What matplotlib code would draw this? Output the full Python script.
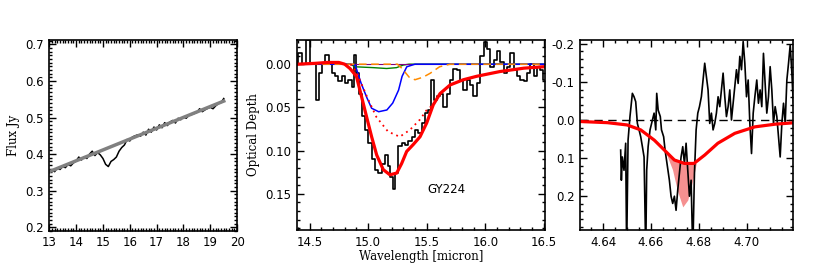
import matplotlib
matplotlib.use("Agg")
import matplotlib.pyplot as plt
from matplotlib.ticker import MultipleLocator, FormatStrFormatter

# ---- left panel: flux spectrum and continuum ----
flux_wave = [13.0, 13.1, 13.2, 13.3, 13.4, 13.5, 13.6, 13.7, 13.8, 13.9,
             14.0, 14.1, 14.2, 14.3, 14.4, 14.5, 14.6, 14.7, 14.8, 14.9,
             15.0, 15.1, 15.2, 15.3, 15.4, 15.5, 15.6, 15.7, 15.8, 15.9,
             16.0, 16.1, 16.2, 16.3, 16.4, 16.5, 16.6, 16.7, 16.8, 16.9,
             17.0, 17.1, 17.2, 17.3, 17.4, 17.5, 17.6, 17.7, 17.8, 17.9,
             18.0, 18.1, 18.2, 18.3, 18.4, 18.5, 18.6, 18.7, 18.8, 18.9,
             19.0, 19.1, 19.2, 19.3, 19.4, 19.5]
flux = [0.350, 0.356, 0.352, 0.362, 0.358, 0.366, 0.363, 0.372, 0.368, 0.376,
        0.381, 0.392, 0.384, 0.393, 0.388, 0.400, 0.408, 0.396, 0.404, 0.398,
        0.388, 0.372, 0.366, 0.380, 0.385, 0.392, 0.408, 0.418, 0.425, 0.440,
        0.436, 0.447, 0.450, 0.453, 0.449, 0.460, 0.452, 0.468, 0.460, 0.474,
        0.466, 0.480, 0.472, 0.486, 0.478, 0.488, 0.492, 0.485, 0.498, 0.494,
        0.502, 0.498, 0.506, 0.508, 0.511, 0.514, 0.524, 0.516, 0.521, 0.525,
        0.528, 0.524, 0.532, 0.538, 0.541, 0.552]
cont_wave = [13.0, 19.5]
cont_flux = [0.352, 0.545]

# ---- middle panel: optical depth ----
tau_wave = [14.389, 14.417, 14.460, 14.488, 14.517, 14.545, 14.565, 14.588, 14.617, 14.651,
            14.674, 14.702, 14.731, 14.759, 14.788, 14.816, 14.845, 14.873, 14.887, 14.907,
            14.930, 14.959, 14.987, 15.016, 15.044, 15.073, 15.101, 15.130, 15.158, 15.181,
            15.201, 15.221, 15.243, 15.272, 15.300, 15.329, 15.357, 15.386, 15.414, 15.443,
            15.472, 15.500, 15.529, 15.551, 15.571, 15.600, 15.628, 15.657, 15.685, 15.714,
            15.743, 15.771, 15.800, 15.828, 15.857, 15.885, 15.914, 15.942, 15.971, 16.000,
            16.028, 16.057, 16.085, 16.114, 16.142, 16.171, 16.199, 16.228, 16.256, 16.285,
            16.313, 16.342, 16.370, 16.399, 16.427, 16.456, 16.484, 16.499]
tau = [0.000, -0.013, 0.000, -0.028, 0.000, 0.000, 0.041, 0.010, 0.000, -0.011,
       0.000, 0.010, 0.014, 0.020, 0.014, 0.022, 0.018, 0.026, -0.011, 0.010,
       0.034, 0.060, 0.076, 0.091, 0.110, 0.122, 0.126, 0.115, 0.105, 0.118,
       0.130, 0.145, 0.126, 0.095, 0.091, 0.093, 0.089, 0.084, 0.076, 0.080,
       0.068, 0.057, 0.053, 0.018, 0.041, 0.037, 0.034, 0.049, 0.034, 0.018,
       0.005, 0.007, 0.018, 0.030, 0.018, 0.024, 0.037, 0.022, -0.009, -0.026,
       -0.017, 0.003, -0.005, -0.015, -0.003, 0.010, 0.003, -0.013, 0.007, 0.014,
       0.018, 0.020, 0.010, 0.000, 0.014, 0.003, 0.007, 0.018]

fit_wave = [14.40, 14.55, 14.65, 14.75, 14.80, 14.845, 14.90, 14.944, 14.987, 15.03,
            15.073, 15.129, 15.186, 15.244, 15.286, 15.329, 15.385, 15.443, 15.50, 15.556,
            15.614, 15.70, 15.813, 15.927, 16.126, 16.33, 16.50]
fit_tau = [0.000, -0.001, -0.002, -0.002, 0.000, 0.005, 0.014, 0.0375, 0.061, 0.084,
           0.105, 0.122, 0.128, 0.126, 0.115, 0.101, 0.093, 0.084, 0.068, 0.047,
           0.034, 0.024, 0.018, 0.014, 0.0085, 0.0046, 0.003]

dot_wave = [14.85, 14.90, 14.99, 15.07, 15.17, 15.27, 15.357, 15.443, 15.50, 15.556]
dot_tau = [0.000, 0.009, 0.0375, 0.061, 0.078, 0.084, 0.076, 0.064, 0.053, 0.047]

blue_wave = [14.40, 14.85, 14.89, 14.94, 14.99, 15.03, 15.09, 15.16, 15.21, 15.26,
             15.29, 15.33, 15.40, 16.50]
blue_tau = [0.000, 0.000, 0.001, 0.022, 0.039, 0.051, 0.055, 0.053, 0.045, 0.030,
            0.014, 0.003, 0.000, 0.000]

orange_wave = [14.40, 15.25, 15.29, 15.35, 15.40, 15.47, 15.53, 15.61, 15.70, 16.50]
orange_tau = [0.000, 0.000, 0.005, 0.015, 0.018, 0.015, 0.0105, 0.003, 0.000, 0.000]

green_wave = [14.40, 14.85, 14.887, 15.044, 15.158, 15.243, 15.30, 15.35, 16.50]
green_tau = [0.000, 0.000, 0.003, 0.004, 0.005, 0.004, 0.001, 0.000, 0.000]

# ---- right panel: CO band ----
co_wave = [4.6473, 4.6476, 4.6480, 4.6487, 4.6494, 4.6498, 4.6504, 4.6512, 4.6522, 4.6529,
           4.6536, 4.6543, 4.6550, 4.6557, 4.6564, 4.6571, 4.6578, 4.6582, 4.6588, 4.6596,
           4.6606, 4.6613, 4.6620, 4.6624, 4.6630, 4.6639, 4.6644, 4.6653, 4.6659, 4.6667,
           4.6677, 4.6684, 4.6691, 4.6698, 4.6705, 4.6712, 4.6719, 4.6726, 4.6733, 4.6740,
           4.6747, 4.6754, 4.6761, 4.6768, 4.6775, 4.6782, 4.6789, 4.6796, 4.6803, 4.6811,
           4.6818, 4.6825, 4.6832, 4.6839, 4.6846, 4.6853, 4.6860, 4.6867, 4.6874, 4.6881,
           4.6888, 4.6895, 4.6902, 4.6909, 4.6916, 4.6923, 4.6930, 4.6937, 4.6944, 4.6951,
           4.6958, 4.6965, 4.6972, 4.6979, 4.6986, 4.6993, 4.7000, 4.7007, 4.7014, 4.7021,
           4.7028, 4.7035, 4.7043, 4.7050, 4.7057, 4.7064, 4.7071, 4.7078, 4.7085, 4.7092,
           4.7099, 4.7106, 4.7113, 4.7120, 4.7127, 4.7134, 4.7141, 4.7148, 4.7155, 4.7162,
           4.7169, 4.7176, 4.7183, 4.7190, 4.7193, 4.7197]
co_tau = [0.079, 0.158, 0.097, 0.132, 0.061, 0.350, 0.053, -0.009, -0.070, -0.061,
          -0.048, 0.009, 0.026, 0.044, 0.070, 0.097, 0.350, 0.132, 0.070, 0.026,
          0.000, -0.018, 0.026, -0.070, -0.026, -0.009, 0.026, 0.044, 0.079, 0.114,
          0.158, 0.200, 0.219, 0.200, 0.237, 0.184, 0.140, 0.097, 0.070, 0.114,
          0.061, 0.132, 0.200, 0.158, 0.350, 0.140, 0.026, -0.018, -0.035, -0.061,
          -0.105, -0.149, -0.114, -0.079, 0.009, -0.018, 0.026, 0.009, -0.018, -0.061,
          -0.035, -0.079, -0.123, -0.061, -0.009, -0.035, -0.079, 0.000, -0.044, -0.088,
          -0.132, -0.096, -0.167, -0.132, -0.206, -0.149, -0.061, -0.105, 0.009, 0.088,
          -0.018, -0.061, -0.105, -0.044, -0.079, -0.035, -0.175, -0.096, -0.018, -0.061,
          -0.140, -0.079, 0.009, -0.035, -0.009, 0.044, 0.097, 0.009, -0.044, 0.009,
          -0.105, -0.149, -0.197, -0.123, -0.079, -0.044]

co_fit_wave = [4.6304, 4.6417, 4.6500, 4.6557, 4.6614, 4.6656, 4.6698, 4.6740, 4.6780, 4.6825,
               4.6880, 4.6951, 4.7035, 4.7120, 4.7204]
co_fit_tau = [0.004, 0.007, 0.013, 0.026, 0.053, 0.079, 0.105, 0.114, 0.114, 0.092,
              0.061, 0.035, 0.018, 0.011, 0.007]

fill_wave = [4.6660, 4.6690, 4.6710, 4.6733, 4.6754, 4.6775, 4.6790]
fill_low = [0.082, 0.130, 0.184, 0.228, 0.210, 0.158, 0.113]
fill_up = [0.082, 0.101, 0.110, 0.113, 0.114, 0.114, 0.113]

label_font = dict(family='DejaVu Serif', fontsize=8.5)


def style_axes(ax):
    ax.tick_params(which='both', direction='in', top=True, right=True,
                   labelsize=8.5, width=1.0, pad=4)
    ax.tick_params(which='major', length=5)
    ax.tick_params(which='minor', length=2.5)
    for s in ax.spines.values():
        s.set_linewidth(1.2)


fig = plt.figure(figsize=(8.17, 2.72), dpi=100)

# left
ax1 = fig.add_axes([0.0603, 0.151, 0.230, 0.702])
ax1.plot(flux_wave, flux, color='black', lw=1.1)
ax1.plot(cont_wave, cont_flux, color='gray', lw=2.5)
ax1.set_xlim(13, 20)
ax1.set_ylim(0.19, 0.712)
ax1.xaxis.set_major_locator(MultipleLocator(1))
ax1.xaxis.set_minor_locator(MultipleLocator(0.1))
ax1.yaxis.set_major_locator(MultipleLocator(0.1))
ax1.yaxis.set_minor_locator(MultipleLocator(0.01))
ax1.yaxis.set_major_formatter(FormatStrFormatter('%.1f'))
ax1.set_ylabel('Flux Jy', **label_font)
style_axes(ax1)

# middle
ax2 = fig.add_axes([0.3631, 0.154, 0.304, 0.699])
ax2.plot(tau_wave, tau, color='black', lw=1.2, drawstyle='steps-mid')
ax2.plot(green_wave, green_tau, color='green', lw=1.0)
ax2.plot([14.4, 16.5], [0, 0], color='purple', lw=0.8)
ax2.plot(blue_wave, blue_tau, color='blue', lw=1.1)
ax2.plot(orange_wave, orange_tau, color='darkorange', lw=1.1, ls=(0, (5, 3)))
ax2.plot(dot_wave, dot_tau, color='red', lw=1.3, ls=(0, (1, 2.2)))
ax2.plot(fit_wave, fit_tau, color='red', lw=2.3)
ax2.text(15.67, 0.1455, 'GY224', fontsize=8.5, ha='center', va='center')
ax2.set_xlim(14.39, 16.51)
ax2.set_ylim(0.192, -0.028)
ax2.xaxis.set_major_locator(MultipleLocator(0.5))
ax2.xaxis.set_minor_locator(MultipleLocator(0.1))
ax2.xaxis.set_major_formatter(FormatStrFormatter('%.1f'))
ax2.yaxis.set_major_locator(MultipleLocator(0.05))
ax2.yaxis.set_minor_locator(MultipleLocator(0.01))
ax2.yaxis.set_major_formatter(FormatStrFormatter('%.2f'))
ax2.set_ylabel('Optical Depth', **label_font)
ax2.set_xlabel('Wavelength [micron]', labelpad=1, **label_font)
style_axes(ax2)

# right
ax3 = fig.add_axes([0.710, 0.154, 0.261, 0.699])
ax3.fill_between(fill_wave, fill_up, fill_low, color='#f59090', lw=0)
ax3.plot(co_wave, co_tau, color='black', lw=1.2)
ax3.axhline(0, color='black', lw=1.0, ls=(0, (6, 4)))
ax3.plot(co_fit_wave, co_fit_tau, color='red', lw=2.3)
ax3.set_xlim(4.6303, 4.7196)
ax3.set_ylim(0.289, -0.21)
ax3.set_xticks([4.64, 4.66, 4.68, 4.70])
ax3.xaxis.set_minor_locator(MultipleLocator(0.005))
ax3.xaxis.set_major_formatter(FormatStrFormatter('%.2f'))
ax3.yaxis.set_major_locator(MultipleLocator(0.1))
ax3.yaxis.set_minor_locator(MultipleLocator(0.02))
ax3.yaxis.set_major_formatter(FormatStrFormatter('%.1f'))
style_axes(ax3)

fig.savefig('out.png', dpi=100)
